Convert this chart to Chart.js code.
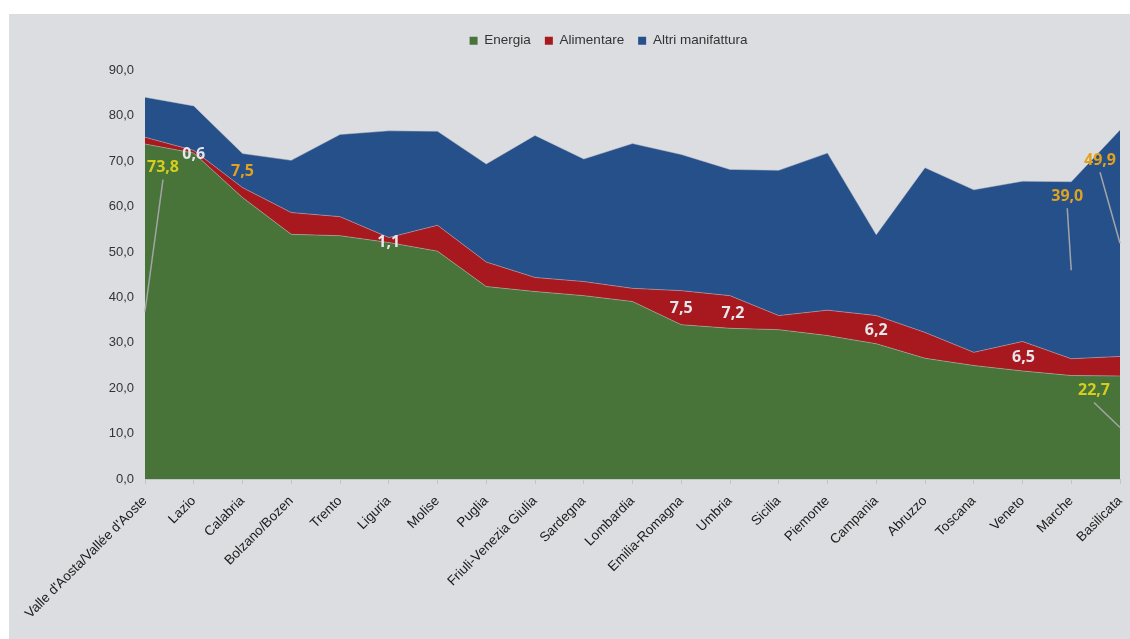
<!DOCTYPE html>
<html>
<head>
<meta charset="utf-8">
<script src="https://cdn.jsdelivr.net/npm/chart.js@4"></script>
<style>
  html, body { margin: 0; padding: 0; background: #fff; }
  #wrap { position: absolute; left: 9px; top: 14px; width: 1121px; height: 625px; background: #dcdde0; }
</style>
</head>
<body>
<div id="wrap"><canvas id="areaChart"></canvas></div>
<script>
// regioni e quote per settore (%)
const regioni = ["Valle d'Aosta/Vallée d'Aoste", 'Lazio', 'Calabria', 'Bolzano/Bozen', 'Trento', 'Liguria', 'Molise',
  'Puglia', 'Friuli-Venezia Giulia', 'Sardegna', 'Lombardia', 'Emilia-Romagna', 'Umbria', 'Sicilia', 'Piemonte',
  'Campania', 'Abruzzo', 'Toscana', 'Veneto', 'Marche', 'Basilicata'];
const energia = [73.8, 71.8, 62.0, 53.9, 53.6, 52.1, 50.2, 42.4, 41.3, 40.4, 39.1, 34.0, 33.2, 32.9, 31.6, 29.8, 26.6, 25.0, 23.8, 22.8, 22.7];
const alimentare = [1.5, 0.6, 2.2, 4.8, 4.2, 1.1, 5.7, 5.4, 3.1, 3.1, 2.9, 7.5, 7.2, 3.1, 5.6, 6.2, 5.7, 2.9, 6.5, 3.7, 4.3];
const altri = [8.8, 9.8, 7.5, 11.5, 18.1, 23.5, 20.7, 21.6, 31.3, 27.0, 31.9, 30.0, 27.8, 32.0, 34.6, 17.8, 36.3, 35.8, 35.3, 39.0, 49.9];
const yTicks = [0, 10, 20, 30, 40, 50, 60, 70, 80, 90];

// etichette dei valori: serie, indice regione, spostamento dal centro della fascia
const etichette = [
  { ds: 0, i: 0, dx: 18, dy: -144, color: '#d6cd1e', leader: true },
  { ds: 0, i: 20, dx: -26, dy: -37, color: '#d6cd1e', leader: true },
  { ds: 1, i: 1, dx: 0, dy: 3, color: '#e6e7ec' },
  { ds: 1, i: 5, dx: 0, dy: 2, color: '#e6e7ec' },
  { ds: 1, i: 11, dx: 0, dy: 1, color: '#e6e7ec' },
  { ds: 1, i: 12, dx: 3, dy: 1, color: '#e6e7ec' },
  { ds: 1, i: 15, dx: 0, dy: 1, color: '#e6e7ec' },
  { ds: 1, i: 18, dx: 1, dy: 1, color: '#e6e7ec' },
  { ds: 2, i: 2, dx: 0, dy: 1, color: '#e2a21e' },
  { ds: 2, i: 19, dx: -4, dy: -74, color: '#e2a21e', leader: true },
  { ds: 2, i: 20, dx: -20, dy: -83, color: '#e2a21e', leader: true }
];

const fmt = v => v.toFixed(1).replace('.', ',');
const FONT = '"Liberation Sans", Arial, sans-serif';

const etichettePlugin = {
  id: 'etichette',
  afterDatasetsDraw(chart) {
    const { ctx, scales: { x, y } } = chart;
    const serie = chart.data.datasets.map(d => d.data);
    ctx.save();
    ctx.font = 'bold 16px "Open Sans", sans-serif';
    ctx.textAlign = 'center';
    ctx.textBaseline = 'middle';
    etichette.forEach(e => {
      let base = 0;
      for (let k = 0; k < e.ds; k++) base += serie[k][e.i];
      const v = serie[e.ds][e.i];
      const px = x.getPixelForValue(e.i);
      const py = y.getPixelForValue(base + v / 2);
      const tx = px + e.dx, ty = py + e.dy;
      if (e.leader) {
        ctx.strokeStyle = '#a3a4a8';
        ctx.lineWidth = 1.5;
        ctx.beginPath();
        ctx.moveTo(tx, ty + 12);
        ctx.lineTo(px, py);
        ctx.stroke();
      }
      ctx.fillStyle = e.color;
      ctx.fillText(fmt(v), tx, ty);
    });
    ctx.restore();
  }
};

// legenda: più spazio sotto e spostata verso destra
const legendaPlugin = {
  id: 'legendaPos',
  afterInit(chart) {
    const lg = chart.legend;
    const fit = lg.fit;
    lg.fit = function () { fit.call(this); this.height += 13; };
  },
  afterLayout(chart) {
    chart.legend.left += 44;
    chart.legend.right += 44;
  }
};

const ctx = document.getElementById('areaChart').getContext('2d');
new Chart(ctx, {
  type: 'line',
  data: {
    labels: regioni,
    datasets: [
      { label: 'Energia', data: energia, backgroundColor: '#48743a', fill: 'origin' },
      { label: 'Alimentare', data: alimentare, backgroundColor: '#a8191f', fill: '-1' },
      { label: 'Altri manifattura', data: altri, backgroundColor: '#265089', fill: '-1' }
    ].map(d => Object.assign(d, { borderColor: 'rgba(190,192,200,0.6)', borderWidth: 0.8, pointRadius: 0, tension: 0 }))
  },
  options: {
    responsive: true,
    maintainAspectRatio: false,
    animation: false,
    layout: { padding: { top: 6, right: 10, left: 0, bottom: 0 } },
    plugins: {
      legend: {
        labels: {
          color: '#333',
          font: { family: FONT, size: 13.5 },
          boxWidth: 8,
          boxHeight: 8,
          padding: 14,
          generateLabels: chart => chart.data.datasets.map((d, i) => ({
            text: d.label, fillStyle: d.backgroundColor, strokeStyle: d.backgroundColor,
            lineWidth: 0, datasetIndex: i, fontColor: '#333'
          }))
        }
      },
      tooltip: { enabled: false }
    },
    scales: {
      x: {
        grid: { drawOnChartArea: false, tickLength: 5, color: '#c3c4c8' },
        border: { color: '#c3c4c8' },
        ticks: {
          color: '#1a1a1a',
          font: { family: FONT, size: 13.5 },
          minRotation: 45,
          maxRotation: 45,
          autoSkip: false,
          padding: 9
        },
        afterFit: s => { s.height = 160; s.paddingRight = 0; s.paddingLeft = 0; }
      },
      y: {
        stacked: true,
        min: 0,
        max: 90,
        afterBuildTicks: s => { s.ticks = yTicks.map(v => ({ value: v })); },
        grid: { display: false },
        border: { display: false },
        ticks: {
          color: '#333',
          font: { family: FONT, size: 13 },
          padding: 3,
          callback: v => fmt(v)
        },
        afterFit: s => { s.width = 136; }
      }
    }
  },
  plugins: [etichettePlugin, legendaPlugin]
});
</script>
</body>
</html>
